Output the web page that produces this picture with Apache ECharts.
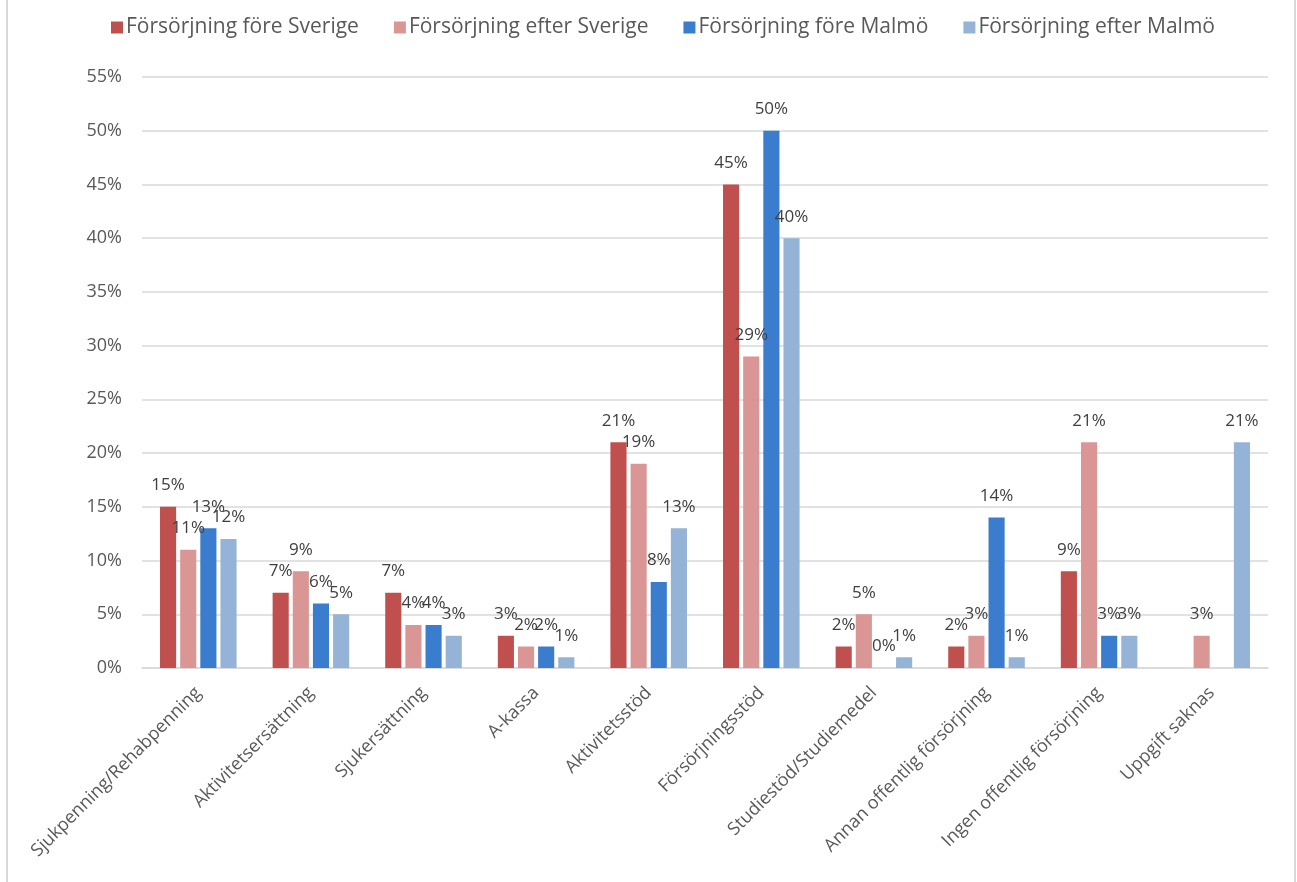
<!DOCTYPE html>
<html>
<head>
<meta charset="utf-8">
<script src="https://cdn.jsdelivr.net/npm/echarts@6/dist/echarts.min.js"></script>
<style>html,body{margin:0;padding:0;background:#fff}#c{width:1297px;height:882px}</style>
</head>
<body>
<div id="c"></div>
<script>
const categories = ['Sjukpenning/Rehabpenning','Aktivitetsersättning','Sjukersättning','A-kassa','Aktivitetsstöd','Försörjningsstöd','Studiestöd/Studiemedel','Annan offentlig försörjning','Ingen offentlig försörjning','Uppgift saknas'];
const seriesNames = ['Försörjning före Sverige','Försörjning efter Sverige','Försörjning före Malmö','Försörjning efter Malmö'];
const foreSverige = [15, 7, 7, 3, 21, 45, 2, 2, 9, null];
const efterSverige = [11, 9, 4, 2, 19, 29, 5, 3, 21, 3];
const foreMalmo = [13, 6, 4, 2, 8, 50, 0, 14, 3, null];
const efterMalmo = [12, 5, 3, 1, 13, 40, 1, 1, 3, 21];
const colors = ['#C0504D', '#D99694', '#3A7DCE', '#95B3D7'];
const FONT = '"Open Sans", sans-serif';
const TXT = '#595959';

const allData = [foreSverige, efterSverige, foreMalmo, efterMalmo];
const chart = echarts.init(document.getElementById('c'));
chart.setOption({
  animation: false,
  textStyle: { fontFamily: FONT },
  color: colors,
  legend: {
    top: 12, left: 106,
    itemWidth: 12, itemHeight: 12, itemGap: 35,
    icon: 'rect',
    textStyle: { fontSize: 21, color: TXT, fontFamily: FONT, padding: [0,0,0,-2] },
    data: seriesNames
  },
  grid: { left: 142, right: 29, top: 77, bottom: 214, containLabel: false },
  xAxis: {
    type: 'category',
    data: categories,
    axisTick: { show: false },
    axisLine: { lineStyle: { color: '#d9d9d9', width: 1.5 } },
    axisLabel: { rotate: 45, fontSize: 18, color: TXT, fontFamily: FONT, margin: 22, interval: 0 }
  },
  yAxis: {
    type: 'value', min: 0, max: 55, interval: 5,
    axisLine: { show: false }, axisTick: { show: false },
    splitLine: { lineStyle: { color: '#d9d9d9', width: 1.5 } },
    axisLabel: { formatter: '{value}%', fontSize: 18, color: TXT, fontFamily: FONT, margin: 20 }
  },
  series: seriesNames.map((n, i) => ({
    name: n, type: 'bar', data: allData[i],
    barGap: '25%', barCategoryGap: '32%',
    itemStyle: { color: colors[i] },
    label: { show: true, position: 'top', formatter: '{c}%', fontSize: 17, color: '#404040', fontFamily: FONT, distance: 13 }
  })),
  graphic: [
    { type: 'line', shape: { x1: 7, y1: 0, x2: 7, y2: 882 }, style: { stroke: '#d9d9d9', lineWidth: 2 } },
    { type: 'line', shape: { x1: 1295, y1: 0, x2: 1295, y2: 882 }, style: { stroke: '#d9d9d9', lineWidth: 2 } }
  ]
});
</script>
</body>
</html>
